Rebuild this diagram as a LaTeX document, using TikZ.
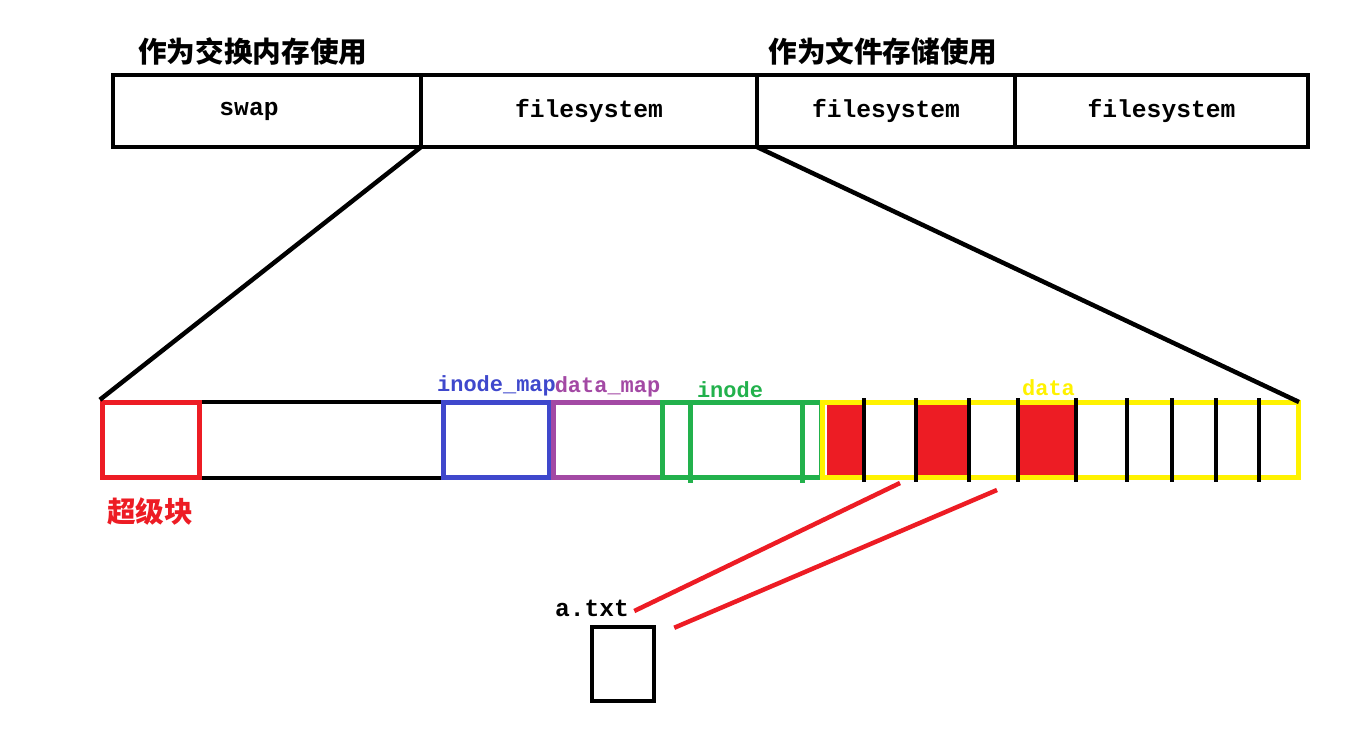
\documentclass[tikz,border=0pt]{standalone}
\usepackage{fontspec}
\setmonofont{Liberation Mono}
\newfontfamily\cjk{Noto Sans CJK SC}
\usetikzlibrary{positioning, calc}
\definecolor{pred}{RGB}{237,28,36}
\definecolor{pblue}{RGB}{63,72,204}
\definecolor{ppurple}{RGB}{163,73,164}
\definecolor{pgreen}{RGB}{34,177,76}
\definecolor{pyellow}{RGB}{255,242,0}
\tikzset{
  part/.style={rectangle, draw=black, line width=0.09cm, inner sep=0pt, outer sep=0pt, minimum height=1.44cm, font=\ttfamily\bfseries\fontsize{14}{16}\selectfont},
  block/.style={rectangle, draw=#1, line width=0.1cm, inner sep=0pt, outer sep=0pt, minimum height=1.52cm},
  tag/.style={font=\ttfamily\bfseries\fontsize{12.5}{14}\selectfont, text=#1, inner sep=1pt},
  head/.style={font=\cjk\bfseries\fontsize{16.3}{19}\selectfont, inner sep=0pt},
  zoom/.style={line width=0.09cm, black},
  link/.style={line width=0.09cm, pred}
}

\begin{document}
\begin{tikzpicture}[x=0.02cm, y=-0.02cm]
        \useasboundingbox (0,0) rectangle (1361,733);
        % partitions
        \node (swap) [part, minimum width=6.16cm, label={[font=\ttfamily\bfseries\fontsize{14}{16}\selectfont, xshift=-0.36cm]center:swap}] at (267,111) {};
        \node (fs1) [part, minimum width=6.72cm] at (589,111) {filesystem};
        \node (fs2) [part, minimum width=5.16cm] at (886,111) {filesystem};
        \node (fs3) [part, minimum width=5.86cm] at (1161.5,111) {filesystem};
        \node (swaphead) [head, anchor=west] at (138,52) {作为交换内存使用};
        \node (fshead) [head, anchor=west] at (768,52) {作为文件存储使用};

        % layout of one filesystem
        \node (disk) [rectangle, draw, line width=0.09cm, inner sep=0pt, minimum width=23.94cm, minimum height=1.52cm] at (700.5,440) {};
        \node (sb) [block=pred, minimum width=1.96cm] at (151,440) {};
        \node (imap) [block=pblue, minimum width=2.14cm] at (496.5,440) {};
        \node (dmap) [block=ppurple, minimum width=2.18cm] at (607.5,440) {};
        \node (inode) [block=pgreen, minimum width=3.2cm] at (742,440) {};
        \node (data) [block=pyellow, minimum width=9.54cm] at (1060.5,440) {};
        \draw [pgreen, line width=0.1cm] (690,402) -- (690,483) (802,402) -- (802,483);
        \foreach \a/\b in {827/864, 918/969, 1020/1075}
          \fill [pred] (\a,405) rectangle (\b,475);
        \foreach \x in {864,916,969,1018,1076,1127,1172,1216,1259}
          \draw [line width=0.09cm] (\x,398) -- (\x,482);

        \node (sblabel) [head, text=pred, anchor=west] at (107,512) {超级块};
        \node (imaptag) [tag=pblue, above=0.08cm of imap] {inode\_map};
        \node (dmaptag) [tag=ppurple, above=0.06cm of dmap] {data\_map};
        \node (inodetag) [tag=pgreen, above=0.04cm of inode, xshift=-0.24cm] {inode};
        \node (datatag) [tag=pyellow, above=0.08cm of data, xshift=-0.24cm] {data};

        \draw [zoom] (fs1.south west) -- (disk.north west);
        \draw [zoom] (fs1.south east) -- (data.north east);

        % file
        \node (file) [rectangle, draw, line width=0.09cm, inner sep=0pt, minimum width=1.24cm, minimum height=1.48cm] at (623,664) {};
        \node (fname) [font=\ttfamily\bfseries\fontsize{14}{16}\selectfont, inner sep=0pt] at (592,608) {a.txt};
        \coordinate (blk1) at (900,483);
        \coordinate (blk2) at (997,490);
        \draw [link] (blk1) -- ($(fname.east)+(5,3)$);
        \draw [link] (blk2) -- ($(file.north east)+(18,3)$);
\end{tikzpicture}
\end{document}
